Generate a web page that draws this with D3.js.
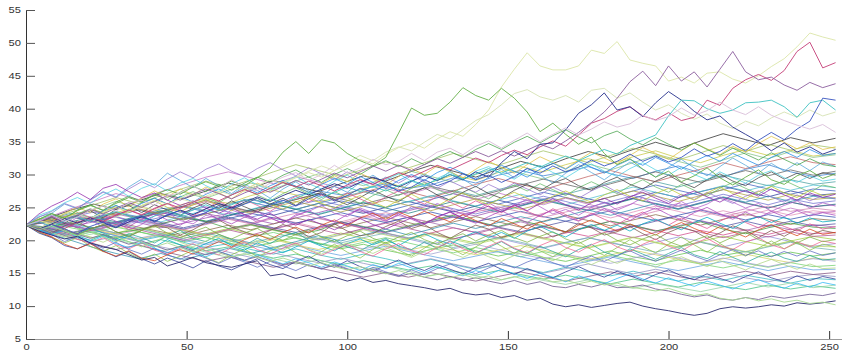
<!DOCTYPE html>
<html>
<head>
<meta charset="utf-8">
<script src="https://cdn.jsdelivr.net/npm/d3@7"></script>
<style>
  body { margin: 0; background: #fff; }
  svg { display: block; }
</style>
</head>
<body>
<svg id="chart" width="842" height="354"></svg>
<script>
// tick labels
const xTicks = [0, 50, 100, 150, 200, 250];
const yTicks = [5, 10, 15, 20, 25, 30, 35, 40, 45, 50, 55];
const lastStep = 252;

// stand-out paths, one value every 4 steps
const paleTop = [22.3,23.0,22.5,23.4,24.0,23.3,24.2,25.0,24.4,25.3,26.1,25.5,26.4,27.2,26.5,27.3,28.1,27.4,28.3,29.2,28.6,29.5,30.3,29.6,30.6,31.4,32.3,31.6,33.0,34.1,34.8,34.0,35.4,36.5,35.8,37.6,39.8,43.3,46.0,48.5,46.5,45.9,45.9,46.5,48.9,48.4,50.2,47.4,46.9,46.5,44.2,44.8,43.9,45.4,45.6,44.5,43.9,45.0,46.4,47.6,49.4,51.5,50.9,50.4];
const paleSecond = [22.3,21.8,22.6,23.2,22.5,23.4,24.1,23.5,24.3,25.2,24.6,25.5,26.3,25.8,26.7,27.5,26.9,27.8,28.6,27.9,28.8,29.6,30.5,31.3,30.6,31.8,32.9,32.1,33.4,34.2,33.6,34.9,36.1,35.4,36.8,38.2,39.1,40.6,42.3,42.9,41.8,41.3,42.0,41.0,42.8,43.1,41.6,42.4,41.0,39.8,40.6,39.3,38.4,39.2,37.8,37.0,38.1,37.4,38.6,39.5,38.7,39.8,38.9,39.5];
const greenHigh = [22.3,23.2,24.0,23.4,24.5,25.3,24.6,25.6,26.5,25.8,26.9,27.7,27.0,28.1,28.9,28.2,29.0,28.3,29.5,31.0,33.4,35.0,33.2,35.3,34.8,33.2,32.1,31.3,32.6,36.3,40.1,39.0,39.3,41.0,43.2,42.0,41.3,43.1,41.6,39.5,36.5,37.8,36.1,34.6,35.7,33.2,31.5,32.4,30.8,29.6,30.5,28.9,29.8,31.0,29.5,28.4,29.6,30.7,29.2,28.5,29.8,30.6,29.4,30.1];
const magentaEnd = [22.3,21.6,22.4,21.8,22.7,23.5,22.9,23.8,24.6,23.9,24.8,25.6,24.9,25.8,26.6,26.0,26.9,27.7,27.0,27.9,28.8,28.1,29.0,28.3,27.5,28.4,29.2,28.5,29.4,30.3,29.6,30.5,31.4,30.7,31.6,32.5,31.8,32.9,33.7,33.0,34.2,35.1,34.3,36.0,37.8,38.5,39.6,40.3,38.9,38.3,39.4,38.2,38.7,41.3,40.5,43.1,44.4,45.2,44.3,45.8,48.7,50.1,46.2,47.0];
const purplePeak = [22.3,22.9,23.7,23.0,23.8,24.7,24.0,24.9,25.7,25.0,25.9,26.8,26.1,27.0,27.8,27.1,26.3,27.2,28.0,27.3,28.2,29.1,28.4,29.3,30.2,29.5,30.4,31.3,30.5,31.4,30.6,31.5,32.4,31.7,32.6,33.5,32.7,33.6,32.8,33.7,34.6,33.9,35.1,36.4,37.9,39.5,41.6,44.1,45.7,43.5,46.5,44.2,45.6,43.3,46.0,48.7,45.6,44.4,44.8,43.6,42.8,44.0,43.2,43.8];
const navyPeak = [22.3,21.7,22.5,23.3,22.6,23.4,22.7,21.9,22.8,23.6,22.9,23.8,24.6,23.9,24.8,25.6,24.9,25.8,26.6,25.9,26.8,27.6,26.9,27.8,28.6,27.9,28.8,29.6,28.9,28.1,29.0,29.8,29.1,30.0,29.2,30.4,29.6,31.8,33.5,32.4,34.6,34.8,36.8,39.3,40.6,42.4,39.8,40.3,38.8,40.9,42.6,41.3,39.6,38.3,38.9,37.2,36.1,35.0,33.6,34.8,33.4,34.2,33.1,33.8];
const cyanHigh = [22.3,22.8,22.1,22.9,23.6,22.9,23.7,24.4,23.7,22.9,23.7,24.5,23.8,24.6,25.4,24.6,25.4,26.2,25.5,26.3,25.6,26.4,27.2,26.5,27.3,28.1,27.4,28.2,27.5,28.3,29.1,28.4,29.2,30.0,29.3,30.1,30.9,30.2,31.0,31.8,31.1,32.0,32.8,32.1,33.0,33.8,33.1,34.4,35.2,36.0,38.9,41.3,41.2,40.0,39.3,39.8,40.9,41.0,41.3,40.3,38.7,40.9,41.3,39.8];
const blueLate = [22.3,21.5,22.4,21.7,21.0,22.1,22.8,22.0,23.1,23.7,22.8,23.9,24.5,23.6,24.2,25.3,24.7,25.5,26.4,25.4,26.1,25.2,26.3,27.1,26.0,26.8,27.9,27.3,28.4,27.5,28.1,29.2,28.3,29.0,30.1,29.2,29.9,28.8,29.7,30.9,30.2,31.3,30.4,31.1,32.2,31.3,32.0,33.1,32.0,32.8,31.9,32.6,33.9,32.8,33.5,34.7,33.6,35.2,36.4,35.3,36.9,38.1,41.6,41.3];
const lavender = [22.3,22.9,23.8,22.9,23.5,24.6,25.2,24.4,25.7,26.1,25.3,26.8,27.2,28.3,27.1,28.0,29.2,28.1,27.5,28.7,29.6,30.3,29.1,30.0,31.4,30.2,31.0,32.3,31.5,32.0,33.2,32.1,33.4,34.0,33.0,34.3,35.1,34.0,35.2,36.3,35.0,36.1,37.1,36.0,36.9,38.0,37.2,37.7,39.0,38.2,38.8,40.1,39.0,39.7,41.0,39.8,39.1,40.3,39.0,38.2,37.5,36.9,37.6,36.4];
const navyLow = [22.3,21.4,20.8,20.2,20.6,19.6,19.0,18.6,17.8,17.0,17.4,16.1,16.7,17.4,16.6,16.2,15.9,16.4,16.9,14.6,14.9,14.2,14.7,14.0,14.4,13.8,14.3,13.6,13.9,13.4,13.1,12.8,12.4,12.7,12.0,11.7,11.9,11.3,11.6,10.9,11.2,10.3,9.9,10.2,9.8,10.1,10.4,10.6,10.0,9.6,9.3,8.9,8.6,8.9,9.6,9.9,9.7,9.9,10.2,10.0,10.5,10.3,10.5,10.8];
const greyLow = [22.3,21.8,21.1,21.7,20.9,20.3,20.9,20.1,19.4,19.9,19.2,18.5,19.1,18.4,17.8,18.3,17.6,17.0,17.5,16.9,16.3,16.8,16.2,15.7,16.2,15.6,15.1,15.6,15.0,14.5,15.0,14.4,14.0,14.5,13.9,14.3,13.8,13.4,13.9,13.3,13.7,13.0,12.8,13.3,12.9,13.4,12.8,12.9,13.2,12.6,12.3,11.8,11.4,11.7,11.1,10.9,11.3,11.0,11.5,11.2,11.5,11.8,11.6,12.0];
const lightGreenLow = [22.3,21.6,22.2,21.4,20.7,21.3,20.5,19.8,20.4,19.7,19.0,19.6,18.9,18.2,18.8,18.1,17.5,18.0,17.4,16.8,17.3,16.7,16.1,16.6,16.0,15.5,16.0,15.4,14.9,15.4,14.8,14.4,14.9,14.3,14.8,14.2,14.6,14.0,14.5,13.9,14.3,13.7,13.9,13.4,13.8,13.2,13.5,12.9,12.6,12.3,12.7,12.1,11.6,11.9,11.2,10.9,11.3,10.8,11.1,10.6,10.9,10.4,10.6,10.2];

const topPaths = [paleTop, paleSecond, greenHigh, magentaEnd, purplePeak, navyPeak, cyanHigh, blueLate, lavender, navyLow, greyLow, lightGreenLow];
const topColors = ['#dce5a8', '#d6e2b4', '#66b04a', '#c43f78', '#8d5f9e', '#27318c', '#3fc2c2', '#3a55c0', '#d9bfd9', '#2c2c70', '#7c6c9c', '#a8d892'];

// the dense band, one value every 7 steps
const bandWalks = [
  [22.3,23.1,22.4,23.5,24.2,23.6,24.8,25.1,24.3,25.6,26.2,25.4,26.8,27.5,26.9,27.8,28.6,27.9,28.4,29.5,28.7,29.9,30.6,29.8,30.4,31.2,30.1,29.4,30.5,31.3,30.2,29.6,30.8,31.5,30.4,29.7,30.2],
  [22.3,21.6,22.2,21.1,20.4,21.3,20.6,19.8,20.5,19.6,18.9,19.7,20.4,19.5,18.7,19.4,18.5,17.8,18.6,19.3,18.4,17.6,18.3,17.4,16.8,17.6,18.4,17.5,16.9,17.8,18.5,17.7,18.3,17.5,18.2,17.6,18.1],
  [22.3,22.9,22.1,22.8,23.6,22.7,21.9,22.6,23.4,24.1,23.3,22.5,23.4,24.2,25.1,24.3,23.6,24.5,25.3,24.4,23.7,24.6,25.5,26.3,25.4,24.6,25.5,26.4,25.6,24.8,25.7,26.5,25.6,24.9,25.8,25.1,25.4],
  [22.3,21.5,20.8,21.6,20.7,19.9,20.6,19.7,18.9,19.5,18.6,17.9,18.7,17.8,17.1,17.9,17.2,16.4,17.1,16.3,15.6,16.4,15.8,15.1,15.9,15.2,14.6,15.3,14.5,13.8,14.6,13.9,14.7,14.1,13.5,14.2,14.0],
  [22.3,22.9,23.8,23.1,24.2,25.1,24.4,25.5,26.3,25.6,26.8,27.6,26.9,25.8,26.7,27.9,28.8,27.9,28.8,29.9,29.1,30.3,31.2,30.4,31.5,32.4,31.6,32.7,33.6,32.5,31.8,32.9,33.8,32.9,33.7,32.8,33.2],
  [22.3,21.7,22.5,23.2,22.4,21.6,22.3,21.5,20.8,21.6,22.4,21.7,20.9,21.8,22.6,21.8,21.1,20.3,21.1,21.9,21.2,20.4,21.2,22.1,21.3,20.6,21.4,22.2,21.5,20.7,21.5,20.8,21.6,20.9,21.7,21.0,21.2],
  [22.3,23.0,22.3,23.2,22.5,23.4,24.2,23.5,22.8,23.7,24.5,23.8,24.7,25.6,24.8,24.1,25.0,25.9,25.1,24.3,25.2,26.1,25.3,26.2,27.1,26.3,25.5,26.4,27.3,26.5,27.4,28.2,27.4,26.6,27.5,26.8,27.1],
  [22.3,22.8,21.9,21.2,22.0,21.3,20.5,21.2,20.4,19.7,20.5,21.2,20.3,19.6,18.9,19.7,20.4,19.6,18.8,18.1,18.9,18.2,17.5,18.3,17.6,16.9,17.7,17.0,16.3,17.0,16.4,15.8,16.5,15.9,16.6,16.0,16.2],
  [22.3,21.8,21.1,21.9,22.8,22.0,21.3,20.6,21.5,22.3,21.6,22.5,23.4,22.6,21.8,22.7,23.5,22.7,21.9,22.8,23.6,22.8,22.0,22.9,23.8,23.0,22.2,23.1,23.9,23.1,22.3,23.2,24.0,23.2,22.4,23.3,23.0],
  [22.3,23.2,24.1,23.4,22.6,23.5,24.4,25.2,24.5,25.4,26.3,25.5,24.7,25.6,26.5,27.4,26.6,25.8,26.7,27.6,26.8,27.7,28.6,27.8,27.0,27.9,28.8,29.7,28.9,28.1,29.0,29.9,29.1,28.3,29.2,28.5,28.9],
  [22.3,22.9,23.6,22.8,22.1,22.9,22.2,21.4,20.7,21.5,22.3,21.6,20.8,20.1,20.9,21.7,20.9,20.2,19.4,20.2,21.0,20.3,19.5,18.8,19.6,20.4,19.7,18.9,19.7,20.5,19.8,19.0,19.8,20.6,19.8,19.1,19.5],
  [22.3,21.5,22.3,21.6,20.8,21.6,22.5,21.7,20.9,21.7,22.6,23.5,22.7,21.9,22.8,23.7,22.9,22.1,23.0,23.9,24.8,24.0,23.2,24.1,25.0,24.2,23.4,24.3,25.2,24.4,23.6,24.5,23.7,24.6,23.8,24.5,24.1],
  [22.3,23.4,24.6,25.5,24.7,26.0,27.1,26.3,27.5,28.7,27.9,29.1,28.2,27.4,28.6,29.8,29.0,30.3,31.4,30.5,29.6,30.8,32.0,31.1,32.4,33.5,32.6,33.8,34.9,33.9,35.1,36.2,35.3,34.4,35.6,34.8,35.5],
  [22.3,21.4,20.6,21.3,20.3,19.4,20.1,19.2,18.4,19.0,18.1,17.3,17.9,17.0,16.3,16.9,16.2,15.5,16.1,15.3,14.7,15.4,14.8,14.1,14.7,14.0,13.4,14.1,13.5,12.9,13.6,13.0,12.5,13.2,12.6,13.1,12.7],
  [22.3,22.8,23.5,24.3,23.5,22.7,23.5,24.3,25.1,24.3,23.5,24.4,25.3,26.1,25.3,24.5,23.8,24.7,25.6,24.8,24.0,24.9,25.8,26.7,25.9,25.0,25.9,26.8,26.0,25.2,26.1,27.0,26.2,25.4,26.3,25.6,26.0],
  [22.3,21.9,21.2,20.4,21.1,21.9,21.1,20.3,21.0,21.8,21.0,20.2,19.5,20.3,21.1,20.3,19.5,20.3,21.1,20.3,19.6,20.4,21.2,20.4,19.6,18.9,19.7,20.5,19.7,19.0,19.8,20.6,19.8,19.1,19.9,20.6,20.1],
  [22.3,22.7,23.6,22.9,23.9,24.8,24.0,25.0,25.9,25.1,24.3,25.3,26.2,27.1,26.3,27.3,28.2,27.4,26.5,27.5,28.5,29.4,28.5,27.7,28.7,29.7,30.6,29.7,28.9,29.9,30.8,31.8,30.9,31.9,32.7,31.8,31.5],
  [22.3,21.6,22.3,21.5,20.7,20.0,20.8,20.0,19.3,20.0,19.2,18.5,19.2,18.4,17.7,18.4,19.1,18.3,17.6,16.9,17.6,18.3,17.5,16.8,16.1,16.8,17.5,16.7,16.0,15.4,16.1,16.8,16.1,15.4,16.1,15.5,15.6],
  [22.3,23.1,23.9,23.2,24.0,23.3,22.5,23.3,24.1,23.3,22.6,21.8,22.6,23.4,22.6,21.9,22.7,23.5,22.7,21.9,21.2,22.0,22.8,22.0,21.3,22.1,22.9,22.1,21.4,22.2,23.0,22.2,21.5,22.3,21.6,22.4,22.0],
  [22.3,21.7,22.5,21.8,22.7,23.6,22.8,23.7,24.6,23.8,24.7,25.6,24.8,24.0,24.9,25.8,25.0,25.9,26.8,26.0,25.2,26.1,27.0,26.2,25.4,26.3,27.2,28.1,27.3,26.5,27.4,28.3,27.5,28.4,27.6,28.4,28.0],
  [22.3,21.8,21.0,21.7,20.9,20.2,20.9,21.6,20.8,20.1,19.4,20.1,19.3,18.6,19.3,20.0,19.2,18.5,19.2,18.5,17.8,18.5,19.2,18.5,17.8,17.1,17.8,18.5,17.8,17.1,16.5,17.2,17.9,17.2,16.6,17.3,17.0],
  [22.3,22.9,22.2,21.5,22.3,23.1,22.4,21.7,22.5,23.3,24.1,23.4,22.6,23.4,24.2,23.4,22.7,23.5,24.3,23.5,22.8,23.6,24.4,23.6,22.9,23.7,24.5,23.7,23.0,23.8,24.6,23.8,23.1,23.9,23.2,23.9,23.5],
  [22.3,22.9,23.8,24.7,25.9,25.0,26.2,27.3,26.4,27.6,28.7,27.8,29.0,30.1,29.2,28.3,29.5,30.6,29.7,28.8,30.0,31.1,30.2,29.3,30.5,31.6,30.7,31.8,32.9,32.0,31.1,32.2,33.3,32.4,33.5,32.6,33.0],
  [22.3,21.6,20.8,21.6,22.4,21.6,20.8,20.0,20.8,21.6,20.8,21.7,22.5,21.7,20.9,21.8,22.6,21.8,21.0,20.2,21.0,21.9,21.1,20.3,21.1,22.0,21.2,20.4,21.2,22.0,21.2,20.4,21.2,20.5,21.3,20.6,20.8],
  [22.3,22.0,22.8,23.6,22.8,23.7,24.5,23.7,22.9,23.8,24.6,25.5,24.7,23.9,24.8,25.7,24.9,24.1,25.0,25.9,25.1,24.3,25.2,26.1,25.3,24.5,25.4,26.3,25.5,24.7,25.6,26.5,25.7,24.9,25.8,25.1,25.5],
  [22.3,21.5,20.7,19.9,20.6,19.8,19.0,18.3,19.0,18.2,17.4,18.1,17.3,16.6,17.3,16.5,15.8,16.5,17.2,16.4,15.7,16.4,15.7,15.0,15.7,16.4,15.6,14.9,15.6,14.9,14.3,15.0,14.3,13.7,14.4,14.8,14.5],
  [22.3,22.9,23.6,22.9,22.1,21.4,22.2,21.5,20.7,21.5,22.3,21.5,20.8,20.0,20.8,21.6,20.8,20.1,20.9,20.1,19.4,20.2,21.0,20.2,19.5,18.8,19.6,20.4,19.6,18.9,19.7,19.0,18.3,19.1,19.8,19.1,19.0],
  [22.3,23.1,22.4,23.3,24.2,23.4,24.3,25.2,26.1,25.2,24.4,25.3,26.2,27.1,26.3,25.5,26.4,27.3,28.2,27.4,26.6,27.5,28.4,29.3,28.5,27.7,28.6,29.5,30.4,29.6,28.8,29.7,30.6,29.8,30.7,29.9,30.5],
  [22.3,21.9,22.7,21.9,21.1,21.6,22.5,23.4,22.9,21.8,22.4,21.6,20.9,21.5,22.8,22.1,21.3,22.2,23.0,23.8,22.9,22.1,23.0,22.2,21.3,22.0,22.9,22.3,21.4,22.1,22.8,21.7,21.0,21.9,22.6,22.0,21.8],
  [22.3,22.0,21.2,21.9,21.1,20.3,21.0,20.2,19.5,20.3,19.6,18.8,19.5,20.2,19.4,18.7,19.4,18.6,17.9,18.7,19.4,18.6,17.9,17.2,17.9,17.2,16.5,17.3,18.0,17.3,16.6,17.3,16.6,16.0,16.7,17.2,16.8],
  [22.3,22.8,23.6,22.8,23.7,24.6,23.8,23.1,24.0,24.9,25.8,25.0,24.2,25.1,26.0,25.2,24.4,25.3,26.2,27.1,26.3,25.5,26.4,27.3,26.5,25.7,26.6,27.5,28.4,27.6,26.8,27.7,28.6,27.8,27.0,27.8,27.5],
  [22.3,23.0,22.2,21.5,22.3,23.1,22.3,21.6,22.4,23.2,22.5,23.3,24.1,23.3,22.6,23.4,24.2,23.4,22.7,23.5,24.3,25.1,24.3,23.5,24.3,25.1,24.3,23.5,24.4,25.2,24.4,23.6,24.4,25.2,24.4,24.9,24.5],
  [22.3,21.7,21.0,21.8,22.6,21.8,21.0,20.3,21.1,20.3,19.6,20.4,21.1,20.3,19.6,20.4,21.1,20.4,19.6,18.9,19.7,20.4,19.7,18.9,19.7,20.4,19.6,18.9,18.2,19.0,19.7,18.9,18.2,19.0,19.7,18.9,18.5],
  [22.3,23.0,23.8,24.6,23.8,24.7,23.9,23.1,24.0,24.9,24.1,25.0,25.9,25.1,24.3,25.2,26.1,25.3,24.5,25.4,26.3,25.5,24.7,25.6,26.5,25.7,26.6,27.5,26.7,25.9,26.8,27.7,26.9,26.1,27.0,26.2,26.5],
  [22.3,21.8,21.1,21.9,22.7,23.5,22.7,21.9,22.7,23.5,22.7,21.9,21.2,22.0,22.8,22.0,21.2,22.0,22.8,23.6,22.8,22.0,21.3,22.1,22.9,22.1,21.3,22.1,22.9,23.7,22.9,22.1,22.9,22.1,22.9,22.2,22.5],
  [22.3,21.2,20.3,21.0,20.1,19.2,18.4,19.1,18.2,17.4,18.0,17.2,16.4,17.0,16.2,15.5,16.1,15.3,14.6,15.3,14.6,13.9,14.6,13.9,13.3,14.0,13.3,12.7,13.4,12.8,12.2,12.9,13.6,12.9,13.5,12.8,13.2],
  [22.3,23.5,24.8,25.9,27.1,26.2,27.4,28.5,29.6,30.4,29.5,28.6,29.7,28.8,27.9,28.9,27.9,27.0,28.0,27.1,26.2,27.2,26.3,25.4,26.4,25.5,24.6,25.6,24.7,25.6,24.7,23.9,24.8,24.0,24.9,24.1,24.4],
  [22.3,21.1,20.0,18.9,18.0,17.2,18.0,17.1,17.9,18.8,18.0,18.9,19.8,20.7,19.9,20.8,21.7,20.8,21.7,22.6,21.8,22.7,23.6,22.8,23.7,24.6,23.8,24.7,25.6,24.8,25.7,26.6,25.8,26.7,25.9,26.7,26.3],
  [22.3,23.2,24.3,25.4,26.5,25.6,26.8,27.9,29.0,28.1,29.2,30.4,31.5,30.6,29.7,30.8,31.9,31.0,32.1,33.2,32.3,31.4,32.5,33.6,32.7,31.8,32.9,34.0,33.1,32.2,33.3,34.4,33.5,34.6,33.7,34.5,34.0],
  [22.3,21.5,20.4,19.5,18.6,19.3,18.4,17.6,16.8,17.5,16.7,15.9,16.6,15.8,15.1,14.4,15.1,14.4,15.1,14.4,13.8,14.5,15.2,14.5,13.8,14.5,15.2,14.5,15.2,14.5,13.9,14.6,15.3,14.6,15.3,14.8,15.1]
];
const bandColors = ['#3a7fd0','#5ec04a','#9a4fb0','#30b8c0','#c8c840','#d04a8a','#2a3a9a','#70d070','#8a6a4a','#4aa0a0',
  '#9090d8','#e090b8','#2a2a2a','#40c080','#7070d0','#a0d040','#c06060','#60a0e0','#a06ab0','#50c0d0',
  '#d0d060','#3050b0','#80c080','#b05090','#208080','#9090c0','#b8d870','#606060','#40a040','#a0a0d0',
  '#4060c0','#d080b0','#70b0b0','#b0a040','#5050a0','#90d0a0','#c070c0','#3090b0','#a0c060','#805080'];

// more of the band, one value every 4 steps
const jaggedWalks = [
  [22.3,23.6,24.1,25.5,24.8,26.2,27.4,26.6,28.1,29.3,28.4,30.2,29.1,28.0,29.4,28.3,27.1,28.5,27.6,26.4,27.8,28.9,27.5,26.7,28.2,27.3,28.8,29.9,28.6,27.4,28.9,30.1,29.0,30.5,29.3,28.1,29.6,30.8,29.5,31.0,29.9,28.7,30.2,31.5,30.3,29.2,30.6,31.9,30.8,29.6,31.1,32.3,31.0,29.8,31.2,32.5,31.4,30.2,31.7,30.5,31.8,30.6,31.9,31.2],
  [22.3,21.2,20.5,19.6,20.4,19.1,18.3,19.2,18.0,17.1,17.9,16.8,17.6,18.5,17.4,16.6,17.8,18.7,17.5,18.4,19.3,18.1,17.2,18.3,19.4,18.2,17.3,18.6,19.7,18.5,17.6,18.8,20.0,18.9,17.8,19.0,20.2,19.1,18.0,19.3,18.4,17.5,18.7,19.8,18.6,17.7,18.9,20.1,19.0,18.1,19.4,20.5,19.3,18.2,19.5,18.4,17.6,18.8,19.9,18.7,19.6,18.5,19.4,19.0],
  [22.3,22.9,21.8,22.2,23.5,23.1,22.0,22.8,21.6,22.4,23.7,24.2,23.0,22.5,23.8,23.3,24.6,23.9,22.7,23.4,22.6,23.9,24.4,25.3,24.1,23.6,24.9,24.2,23.0,23.8,25.1,24.5,25.6,24.8,23.9,24.4,25.7,24.6,25.2,26.3,25.1,24.0,24.7,23.8,25.0,25.8,24.6,25.4,26.5,25.3,24.7,25.9,24.8,25.5,26.6,25.8,24.9,25.6,24.4,25.3,26.0,24.9,25.7,25.2],
  [22.3,21.7,22.4,21.3,20.8,21.9,21.1,20.2,21.0,20.4,19.6,20.7,21.5,20.3,19.8,20.9,20.1,19.2,20.3,19.5,20.6,21.2,20.0,19.3,20.1,19.0,18.4,19.5,20.3,19.1,18.6,19.7,18.8,19.9,19.2,18.1,18.9,19.8,18.7,18.0,19.1,18.3,17.5,18.6,19.4,18.2,17.6,18.7,17.9,17.1,18.0,18.9,17.8,17.2,18.3,17.4,16.6,17.5,18.2,17.3,16.8,17.7,17.0,17.2],
  [22.3,23.4,22.8,24.1,25.0,24.2,25.5,26.3,25.1,26.4,27.5,26.6,27.8,26.9,28.1,27.2,26.3,27.6,28.7,27.8,29.0,28.1,27.3,28.6,29.8,28.9,30.2,29.3,28.4,29.7,30.9,30.0,31.3,30.4,29.5,30.8,32.0,31.1,30.2,31.5,32.7,31.8,30.9,32.2,33.4,32.5,31.6,32.9,34.1,33.2,32.3,33.6,34.8,33.9,33.0,34.3,33.4,34.7,35.8,34.9,33.9,34.8,33.8,34.2],
  [22.3,22.8,23.7,23.0,24.2,23.5,22.7,23.9,24.6,23.8,24.9,25.6,24.5,23.7,24.8,25.9,25.0,26.2,25.3,24.4,25.6,26.7,25.8,26.9,26.0,27.2,26.3,25.4,26.6,27.5,26.4,25.5,26.7,25.8,24.9,26.0,25.1,24.2,25.3,24.4,23.6,24.8,23.9,23.0,24.1,23.2,22.4,23.5,24.3,23.1,22.3,23.4,22.6,21.8,22.9,23.8,22.7,21.9,23.0,22.1,21.4,22.5,21.7,22.1],
  [22.3,21.1,20.4,19.2,18.7,19.6,18.4,17.5,18.3,17.2,16.4,17.3,16.6,15.8,16.9,16.1,15.5,16.4,17.2,16.3,15.7,16.8,17.6,16.5,15.9,16.9,16.0,15.3,16.2,17.0,16.1,15.4,16.3,15.6,14.9,15.8,16.5,15.6,14.8,15.7,15.0,14.3,15.2,16.0,15.1,14.4,15.3,14.6,13.9,14.8,15.5,14.6,14.0,14.9,14.2,13.6,14.5,15.2,14.3,13.7,14.6,13.9,14.5,14.1],
  [22.3,23.1,23.8,22.9,24.0,24.8,24.1,25.3,24.5,25.7,26.4,25.5,26.6,27.4,26.5,25.7,26.9,27.8,26.9,26.0,27.1,28.0,27.0,26.2,27.4,26.5,25.6,26.8,27.7,26.8,27.9,28.8,27.7,26.9,28.1,27.2,26.3,27.5,28.4,27.5,28.6,27.7,26.8,28.0,28.9,28.0,27.1,28.3,29.2,28.1,27.3,28.5,27.6,26.7,27.9,28.8,27.9,27.0,28.2,29.1,28.2,27.3,28.4,28.0],
  [22.3,21.8,21.1,22.2,22.9,21.7,22.4,21.3,20.6,21.5,22.3,21.9,20.8,21.6,22.7,23.1,22.0,21.3,20.6,21.5,22.4,21.8,20.5,21.2,22.5,21.4,20.7,21.0,22.1,22.9,21.8,22.4,21.2,20.3,21.4,22.3,21.7,20.4,21.0,22.4,21.6,20.5,21.3,22.6,21.9,20.8,21.3,22.1,21.0,20.1,21.2,22.0,21.4,20.3,21.1,22.2,21.5,20.4,21.5,20.6,21.7,20.8,21.5,21.1],
  [22.3,21.6,20.9,21.8,20.7,20.0,20.8,19.9,20.7,19.6,19.0,20.1,19.3,18.6,19.5,20.3,19.2,18.5,19.6,18.8,18.1,19.0,19.9,19.1,18.4,19.5,20.2,19.3,20.1,19.2,20.3,21.0,20.1,19.4,20.5,21.3,20.4,21.2,20.3,21.4,22.1,21.2,20.5,21.6,22.4,21.5,22.3,21.4,22.5,23.2,22.3,21.6,22.7,23.5,22.6,21.8,22.9,23.6,22.7,23.5,22.6,23.4,22.8,23.0],
  [22.3,23.5,24.4,25.6,24.9,26.1,27.3,26.5,27.8,28.9,28.0,29.3,30.4,29.5,30.8,31.6,30.5,29.7,30.9,31.8,30.7,29.8,31.0,30.1,29.2,30.4,29.3,28.5,29.6,28.7,29.8,28.9,27.9,29.0,28.1,27.3,28.5,27.6,28.7,27.8,26.9,28.1,27.2,26.4,27.5,28.4,27.3,26.5,27.6,26.8,25.9,27.0,26.2,27.3,26.4,25.6,26.7,27.5,26.6,25.8,26.9,26.0,26.8,26.3],
  [22.3,21.5,20.6,21.4,20.2,19.5,20.4,19.3,18.7,19.6,18.5,17.9,18.8,19.5,18.4,17.8,18.9,19.7,18.6,17.9,18.8,19.6,18.5,17.7,18.6,19.4,18.3,17.6,18.7,19.5,18.4,17.8,18.9,19.8,18.7,18.0,19.1,19.9,18.8,18.1,19.2,20.0,18.9,18.2,19.3,20.1,19.0,18.3,19.4,20.2,19.1,18.4,19.5,20.3,19.2,18.6,19.7,20.4,19.3,18.7,19.8,19.0,19.9,19.5],
  [22.3,22.7,23.5,22.6,23.8,24.5,23.4,24.7,25.3,24.2,25.4,24.6,23.8,24.9,25.7,24.8,26.0,25.1,24.3,25.5,26.4,25.3,26.6,27.3,26.2,25.4,26.5,27.6,26.7,25.9,27.1,28.0,26.9,26.1,27.3,28.2,27.1,26.4,27.6,28.5,27.5,28.7,29.4,28.3,27.6,28.8,29.6,28.5,27.8,29.0,29.9,28.8,28.0,29.2,30.1,29.0,28.3,29.5,30.4,29.3,30.2,29.4,30.3,29.9],
  [22.3,23.2,24.1,23.3,24.6,25.4,24.5,25.8,26.7,25.9,27.0,26.1,27.3,28.2,27.4,28.5,27.6,28.7,29.6,28.8,29.9,30.7,29.6,28.8,30.0,30.9,30.0,31.2,32.1,31.2,32.4,31.5,32.6,33.5,32.6,33.8,34.7,33.8,34.9,35.8,34.8,35.9,36.8,35.7,34.8,35.9,36.6,35.4,34.5,35.6,34.6,33.7,34.8,33.8,32.9,34.0,33.1,32.2,33.3,32.3,31.4,32.4,31.5,31.2],
  [22.3,21.4,20.9,19.8,20.6,19.5,18.8,19.7,18.6,17.9,18.8,17.8,17.1,18.0,17.3,16.5,17.4,16.7,15.9,16.8,16.1,15.4,16.3,15.6,16.4,15.7,15.0,15.9,15.2,14.6,15.5,14.8,15.7,16.4,15.6,14.9,15.8,16.6,15.8,16.7,17.4,16.6,15.9,16.8,17.6,16.8,17.7,18.4,17.5,16.8,17.7,18.5,17.6,16.9,17.8,18.6,17.7,18.4,17.5,18.3,17.6,18.4,17.7,18.1],
  [22.3,23.0,22.4,23.5,24.2,23.3,24.4,25.1,24.2,25.3,26.0,25.0,24.3,25.4,26.2,25.3,24.5,25.6,26.4,25.5,24.7,25.8,26.6,25.6,24.9,26.0,26.8,25.8,25.0,26.1,27.0,26.0,25.2,26.3,27.2,26.2,25.4,26.5,27.3,26.4,25.6,26.7,27.5,26.5,25.8,26.9,27.7,26.7,26.0,27.1,27.9,26.9,26.1,27.2,28.1,27.1,26.3,27.4,28.2,27.2,26.5,27.6,26.8,27.1],
  [22.3,21.3,20.5,19.4,18.7,19.5,18.3,17.6,18.4,17.3,16.9,17.8,18.6,17.9,18.9,19.8,19.0,20.1,20.9,20.1,21.2,22.0,21.1,22.3,23.1,22.2,23.4,24.1,23.2,24.3,23.5,24.4,23.6,22.8,23.9,23.0,22.2,23.3,22.5,21.7,22.8,22.0,21.2,22.3,23.1,22.2,21.4,22.5,21.6,20.8,21.9,22.7,21.8,21.0,22.1,21.3,20.5,21.6,22.4,21.5,20.7,21.7,20.9,21.2],
  [22.3,21.7,20.8,21.5,20.4,19.8,20.6,19.5,18.9,19.7,18.8,18.1,19.0,18.2,17.5,18.3,17.7,16.9,17.8,17.1,16.4,17.2,16.6,15.9,16.7,16.1,15.4,16.3,15.7,16.5,15.8,15.1,16.0,15.3,14.6,15.4,14.8,15.6,14.9,14.2,15.0,14.4,13.7,14.6,14.0,13.4,14.2,14.9,14.1,13.5,14.3,13.6,13.0,13.8,13.2,12.6,13.4,14.0,13.3,12.7,13.5,12.9,13.6,13.2],
  [22.3,22.8,23.6,22.7,21.9,23.0,23.8,22.9,22.1,23.2,24.0,23.1,22.3,23.4,24.2,23.2,22.5,23.5,24.4,23.4,22.6,23.7,24.5,23.5,22.8,23.9,24.7,23.7,22.9,24.0,23.2,22.4,23.5,24.3,23.3,22.6,23.6,24.5,23.5,22.7,23.8,24.6,23.6,22.9,23.9,24.8,23.8,23.0,24.1,24.9,23.9,23.1,24.2,25.0,24.0,23.2,24.3,23.4,24.4,23.6,24.5,23.7,24.2,23.8],
  [22.3,23.8,24.5,25.7,26.5,25.6,26.9,27.8,26.7,27.9,28.6,27.5,28.7,29.4,28.3,27.4,28.6,29.5,28.4,27.6,28.8,29.7,28.6,27.8,29.0,29.9,28.8,28.0,29.2,30.1,29.0,28.2,29.4,30.3,29.2,30.5,31.2,30.1,29.3,30.5,31.4,30.3,29.5,30.7,31.6,30.5,29.7,30.9,31.8,30.7,29.9,31.1,30.0,29.2,30.4,29.5,28.7,29.9,30.6,29.5,28.8,29.8,29.0,29.3],
  [22.3,22.0,21.2,20.5,21.3,20.4,19.7,20.6,19.8,19.0,19.9,20.6,19.7,19.0,19.9,20.7,19.8,19.1,20.0,19.2,18.5,19.4,18.6,17.9,18.8,19.6,18.7,18.0,18.9,18.1,17.4,18.3,19.0,18.1,17.4,18.3,17.5,16.8,17.7,18.4,17.6,16.9,17.8,17.0,16.3,17.2,16.5,17.3,16.6,15.9,16.8,17.5,16.7,16.0,16.9,16.2,15.5,16.4,17.1,16.3,15.6,16.4,15.7,15.8],
  [22.3,22.9,23.8,23.0,24.1,23.3,24.5,25.3,24.4,25.6,26.4,25.5,26.7,25.8,27.0,27.8,26.9,28.1,27.2,28.3,29.1,28.2,27.3,28.5,29.4,28.5,29.7,28.8,27.9,29.1,30.0,29.1,30.3,31.1,30.2,29.3,30.5,31.4,30.5,29.6,30.8,31.7,30.8,32.0,31.1,30.2,31.4,32.3,31.4,32.6,31.7,30.8,32.0,32.9,32.0,33.2,32.3,31.4,32.6,33.5,32.6,33.8,32.9,33.2],
  [22.3,21.9,22.6,21.5,20.8,21.7,22.4,21.3,20.6,21.5,22.2,21.1,20.4,21.3,22.0,20.9,20.2,21.1,21.8,20.7,20.0,20.9,21.6,20.5,19.8,20.7,21.4,20.3,19.6,20.5,21.2,20.1,19.4,20.3,21.0,19.9,20.8,21.5,20.4,19.7,20.6,21.3,20.2,19.5,20.4,21.1,20.0,19.3,20.2,20.9,19.8,19.1,20.0,20.7,19.6,20.5,21.2,20.1,19.4,20.3,19.6,20.5,19.8,20.1],
  [22.3,24.0,25.2,26.1,27.3,26.2,27.9,28.5,27.4,26.5,27.2,26.1,25.3,26.0,24.9,24.1,25.0,23.9,23.2,24.1,23.0,22.3,23.2,22.4,21.6,22.5,23.3,22.4,21.7,22.6,23.4,22.5,23.6,24.3,23.4,24.5,25.2,24.3,25.4,24.5,25.6,26.3,25.4,24.6,25.7,26.4,25.5,26.6,27.3,26.4,25.6,26.7,27.5,26.6,25.8,26.9,27.6,26.7,27.8,26.9,26.1,27.2,26.5,27.0]
];
const jaggedColors = ['#4fa3d8','#8bc34a','#b05cc8','#26a69a','#e0c040','#e05090','#283593','#66bb6a','#795548','#00acc1',
  '#9575cd','#f06292','#424242','#43a047','#5c6bc0','#c0ca33','#d84315','#29b6f6','#ab47bc','#4dd0e1',
  '#aed581','#1e88e5','#7cb342','#8e24aa'];

const width = 842, height = 354;
const margin = {left: 26, top: 10, bottom: 15};

const x = d3.scaleLinear().domain([0, 254]).range([margin.left, width]);
const y = d3.scaleLinear().domain([5, 55]).range([height - margin.bottom, margin.top]);

const svg = d3.select('#chart');

const line = d3.line()
  .x((d, i, arr) => x(i * lastStep / (arr.length - 1)))
  .y(d => y(d));

function drawWalks(data, colors, opacity) {
  svg.append('g')
    .selectAll('path')
    .data(data)
    .join('path')
    .attr('fill', 'none')
    .attr('stroke', (d, i) => colors[i % colors.length])
    .attr('stroke-width', 1)
    .attr('stroke-opacity', opacity)
    .attr('stroke-linejoin', 'round')
    .attr('d', line);
}

drawWalks(bandWalks, bandColors, 0.75);
drawWalks(jaggedWalks, jaggedColors, 0.75);
drawWalks(topPaths, topColors, 0.9);

// axes
const xAxis = svg.append('g')
  .attr('transform', 'translate(0,' + y(5) + ')')
  .call(d3.axisBottom(x).tickValues(xTicks).tickSize(-8).tickSizeOuter(0).tickPadding(5));
xAxis.select('.domain').attr('stroke', '#9a9a9a');
xAxis.selectAll('.tick line').attr('stroke', '#333');

const yAxis = svg.append('g')
  .attr('transform', 'translate(' + margin.left + ',0)')
  .call(d3.axisLeft(y).tickValues(yTicks).tickSize(-9).tickSizeOuter(0).tickPadding(5));
yAxis.select('.domain').attr('stroke', '#333');
yAxis.selectAll('.tick line').attr('stroke', '#555');

svg.selectAll('.tick text')
  .attr('font-family', '"Liberation Sans", Arial, sans-serif')
  .attr('font-size', 8.5)
  .attr('fill', '#333')
  .attr('textLength', function() { return this.textContent.length * 6.2; })
  .attr('lengthAdjust', 'spacingAndGlyphs');
</script>
</body>
</html>
